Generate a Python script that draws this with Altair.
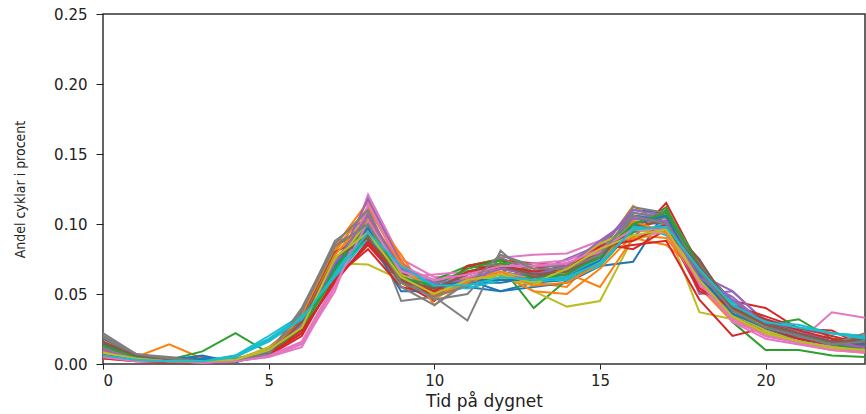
import altair as alt
import pandas as pd

hours = list(range(24))

s00 = [0.020,0.006,0.003,0.005,0.002,0.012,0.030,0.075,0.100,0.060,0.050,0.055,0.052,0.058,0.060,0.072,0.110,0.108,0.062,0.035,0.025,0.020,0.016,0.018]
s01 = [0.010,0.005,0.014,0.004,0.003,0.008,0.032,0.080,0.112,0.070,0.048,0.056,0.062,0.058,0.055,0.080,0.113,0.098,0.055,0.030,0.022,0.015,0.010,0.008]
s02 = [0.014,0.004,0.003,0.009,0.022,0.008,0.025,0.066,0.098,0.060,0.050,0.064,0.070,0.040,0.060,0.070,0.096,0.112,0.065,0.030,0.010,0.010,0.006,0.005]
s03 = [0.006,0.003,0.002,0.002,0.003,0.007,0.022,0.060,0.085,0.058,0.045,0.070,0.075,0.068,0.072,0.080,0.090,0.115,0.070,0.045,0.040,0.025,0.024,0.012]
s04 = [0.012,0.005,0.002,0.002,0.004,0.009,0.028,0.070,0.108,0.065,0.055,0.060,0.070,0.065,0.075,0.085,0.108,0.105,0.050,0.052,0.030,0.022,0.018,0.014]
s05 = [0.018,0.007,0.003,0.002,0.002,0.006,0.030,0.085,0.095,0.065,0.058,0.066,0.072,0.066,0.070,0.082,0.102,0.100,0.075,0.038,0.030,0.024,0.016,0.020]
s06 = [0.004,0.002,0.002,0.001,0.002,0.005,0.012,0.055,0.121,0.075,0.062,0.064,0.076,0.078,0.079,0.088,0.105,0.098,0.060,0.035,0.020,0.016,0.037,0.033]
s07 = [0.022,0.007,0.005,0.003,0.004,0.008,0.038,0.088,0.105,0.045,0.048,0.031,0.081,0.060,0.062,0.076,0.104,0.100,0.060,0.032,0.022,0.018,0.012,0.016]
s08 = [0.008,0.004,0.002,0.002,0.003,0.012,0.026,0.072,0.071,0.060,0.047,0.058,0.064,0.052,0.041,0.045,0.090,0.098,0.037,0.032,0.022,0.015,0.010,0.009]
s09 = [0.005,0.003,0.002,0.002,0.006,0.020,0.035,0.060,0.092,0.070,0.055,0.058,0.060,0.066,0.064,0.076,0.100,0.092,0.066,0.040,0.030,0.024,0.022,0.020]
s10 = [0.016,0.006,0.003,0.006,0.001,0.010,0.028,0.068,0.090,0.052,0.052,0.060,0.052,0.055,0.058,0.070,0.073,0.110,0.058,0.034,0.024,0.018,0.012,0.015]
s11 = [0.012,0.005,0.002,0.002,0.003,0.010,0.035,0.082,0.110,0.078,0.042,0.060,0.072,0.058,0.065,0.055,0.090,0.085,0.066,0.038,0.028,0.020,0.016,0.012]
s12 = [0.015,0.005,0.002,0.002,0.002,0.008,0.026,0.070,0.104,0.066,0.060,0.070,0.075,0.064,0.068,0.080,0.098,0.110,0.072,0.041,0.028,0.032,0.018,0.016]
s13 = [0.004,0.002,0.001,0.001,0.002,0.006,0.020,0.062,0.082,0.055,0.050,0.070,0.074,0.072,0.070,0.082,0.085,0.088,0.046,0.020,0.026,0.018,0.014,0.010]
s14 = [0.010,0.004,0.002,0.002,0.003,0.010,0.030,0.074,0.100,0.070,0.058,0.060,0.066,0.062,0.068,0.086,0.106,0.104,0.064,0.052,0.030,0.024,0.016,0.012]
s15 = [0.014,0.006,0.003,0.002,0.003,0.007,0.028,0.072,0.088,0.060,0.050,0.062,0.068,0.064,0.066,0.078,0.096,0.094,0.068,0.040,0.028,0.020,0.014,0.012]
s16 = [0.006,0.003,0.002,0.001,0.002,0.006,0.016,0.058,0.096,0.062,0.064,0.066,0.070,0.072,0.074,0.084,0.094,0.098,0.060,0.030,0.018,0.014,0.010,0.008]
s17 = [0.020,0.007,0.004,0.002,0.003,0.006,0.036,0.086,0.098,0.055,0.042,0.058,0.078,0.070,0.070,0.080,0.112,0.108,0.072,0.042,0.030,0.022,0.016,0.014]
s18 = [0.009,0.004,0.002,0.002,0.003,0.010,0.028,0.078,0.106,0.068,0.052,0.062,0.066,0.060,0.066,0.084,0.088,0.096,0.062,0.036,0.024,0.016,0.012,0.010]
s19 = [0.007,0.003,0.002,0.002,0.005,0.016,0.032,0.065,0.098,0.072,0.054,0.056,0.062,0.058,0.062,0.074,0.094,0.100,0.070,0.044,0.032,0.026,0.022,0.020]
s20 = [0.013,0.005,0.002,0.004,0.002,0.009,0.030,0.070,0.094,0.068,0.056,0.058,0.058,0.062,0.064,0.078,0.106,0.102,0.064,0.036,0.026,0.020,0.014,0.012]
s21 = [0.009,0.004,0.002,0.002,0.003,0.011,0.034,0.084,0.116,0.074,0.046,0.062,0.064,0.052,0.050,0.068,0.092,0.090,0.060,0.034,0.022,0.016,0.012,0.010]
s22 = [0.011,0.005,0.002,0.002,0.003,0.009,0.024,0.064,0.092,0.058,0.054,0.066,0.072,0.062,0.066,0.076,0.094,0.106,0.068,0.038,0.026,0.020,0.014,0.010]
s23 = [0.007,0.003,0.002,0.002,0.003,0.008,0.024,0.058,0.088,0.064,0.048,0.070,0.068,0.064,0.070,0.086,0.082,0.096,0.052,0.042,0.034,0.026,0.020,0.014]
s24 = [0.011,0.004,0.002,0.002,0.003,0.008,0.026,0.068,0.118,0.072,0.056,0.058,0.064,0.060,0.064,0.084,0.110,0.106,0.060,0.048,0.028,0.020,0.014,0.012]
s25 = [0.016,0.006,0.003,0.002,0.002,0.006,0.032,0.080,0.092,0.058,0.052,0.064,0.070,0.062,0.068,0.080,0.098,0.102,0.074,0.040,0.030,0.022,0.016,0.018]
s26 = [0.005,0.002,0.002,0.001,0.002,0.005,0.014,0.052,0.114,0.070,0.060,0.062,0.068,0.070,0.072,0.080,0.092,0.094,0.056,0.032,0.020,0.015,0.012,0.010]
s27 = [0.019,0.006,0.004,0.002,0.003,0.007,0.040,0.086,0.110,0.062,0.046,0.050,0.076,0.066,0.068,0.078,0.108,0.104,0.070,0.040,0.028,0.020,0.014,0.022]
s28 = [0.008,0.004,0.002,0.002,0.003,0.011,0.026,0.074,0.100,0.064,0.050,0.060,0.062,0.056,0.070,0.086,0.096,0.094,0.058,0.034,0.022,0.016,0.012,0.010]
s29 = [0.006,0.003,0.002,0.002,0.006,0.018,0.034,0.062,0.090,0.068,0.056,0.054,0.060,0.060,0.060,0.070,0.098,0.096,0.068,0.042,0.030,0.028,0.022,0.018]
s30 = [0.015,0.005,0.002,0.003,0.002,0.010,0.028,0.070,0.097,0.062,0.054,0.060,0.060,0.060,0.062,0.074,0.100,0.106,0.062,0.036,0.026,0.020,0.016,0.014]
s31 = [0.010,0.004,0.002,0.002,0.003,0.009,0.030,0.078,0.104,0.072,0.048,0.058,0.066,0.056,0.058,0.072,0.102,0.094,0.058,0.032,0.022,0.016,0.012,0.009]
s32 = [0.013,0.005,0.002,0.002,0.003,0.008,0.026,0.068,0.100,0.062,0.056,0.068,0.074,0.060,0.064,0.078,0.100,0.108,0.070,0.040,0.028,0.022,0.014,0.010]
s33 = [0.006,0.003,0.002,0.002,0.003,0.007,0.022,0.060,0.086,0.060,0.052,0.066,0.070,0.066,0.068,0.084,0.088,0.100,0.054,0.040,0.032,0.024,0.018,0.012]
s34 = [0.010,0.004,0.002,0.002,0.003,0.009,0.028,0.072,0.106,0.068,0.058,0.060,0.068,0.064,0.070,0.088,0.104,0.102,0.062,0.046,0.028,0.022,0.016,0.012]
s35 = [0.015,0.006,0.003,0.002,0.003,0.007,0.030,0.076,0.090,0.060,0.054,0.064,0.070,0.064,0.066,0.078,0.096,0.098,0.070,0.040,0.028,0.022,0.016,0.016]
s36 = [0.005,0.003,0.002,0.001,0.002,0.006,0.015,0.056,0.102,0.066,0.060,0.064,0.070,0.070,0.072,0.082,0.096,0.096,0.058,0.032,0.020,0.016,0.012,0.009]
s37 = [0.020,0.007,0.004,0.002,0.003,0.007,0.038,0.084,0.100,0.058,0.048,0.056,0.078,0.068,0.068,0.078,0.106,0.100,0.066,0.038,0.026,0.020,0.014,0.016]
s38 = [0.008,0.004,0.002,0.002,0.003,0.010,0.026,0.076,0.094,0.062,0.050,0.060,0.064,0.058,0.068,0.082,0.092,0.096,0.060,0.034,0.022,0.016,0.012,0.010]
s39 = [0.006,0.003,0.002,0.002,0.005,0.017,0.032,0.064,0.094,0.070,0.056,0.056,0.062,0.060,0.062,0.072,0.096,0.098,0.068,0.042,0.030,0.026,0.022,0.019]

series = [s00, s01, s02, s03, s04, s05, s06, s07, s08, s09,
          s10, s11, s12, s13, s14, s15, s16, s17, s18, s19,
          s20, s21, s22, s23, s24, s25, s26, s27, s28, s29,
          s30, s31, s32, s33, s34, s35, s36, s37, s38, s39]

tab10 = ["#1f77b4", "#ff7f0e", "#2ca02c", "#d62728", "#9467bd",
         "#8c564b", "#e377c2", "#7f7f7f", "#bcbd22", "#17becf"]

x_ticks = [0, 5, 10, 15, 20]
y_ticks = [0.0, 0.05, 0.10, 0.15, 0.20, 0.25]

rows = []
for i, s in enumerate(series):
    for h, v in zip(hours, s):
        rows.append({"serie": f"s{i:02d}", "timme": h, "andel": v})
df = pd.DataFrame(rows)

names = [f"s{i:02d}" for i in range(len(series))]
colors = [tab10[i % 10] for i in range(len(series))]

chart = (
    alt.Chart(df)
    .mark_line(strokeWidth=2, clip=True)
    .encode(
        x=alt.X("timme:Q",
                scale=alt.Scale(domain=[0, 23], nice=False, zero=False),
                axis=alt.Axis(values=x_ticks, title="Tid på dygnet", format="d",
                              grid=False, domain=False, tickSize=5, tickColor="#222",
                              labelFontSize=15, labelColor="#222", labelPadding=4,
                              titleFontSize=17, titleFontWeight="normal",
                              titleColor="#222", titlePadding=5,
                              labelFont="DejaVu Sans", titleFont="DejaVu Sans")),
        y=alt.Y("andel:Q",
                scale=alt.Scale(domain=[0, 0.25], nice=False),
                axis=alt.Axis(values=y_ticks, title="Andel cyklar i procent", format=".2f",
                              grid=False, domain=False, tickSize=7, tickColor="#222",
                              labelFontSize=15, labelColor="#222", labelPadding=9,
                              titleFontSize=14, titleFontWeight="normal",
                              titleColor="#222", titlePadding=26,
                              labelFont="DejaVu Sans",
                              titleFont="Liberation Sans Narrow, DejaVu Sans Condensed, DejaVu Sans")),
        color=alt.Color("serie:N", scale=alt.Scale(domain=names, range=colors), legend=None),
        detail="serie:N",
    )
    .properties(width=762, height=350,
                autosize=alt.AutoSizeParams(type="none"),
                padding={"left": 103, "top": 14, "right": 1, "bottom": 50})
    .configure_view(stroke="#333", strokeWidth=1.5)
)

chart.save("out.html", embed_options={"renderer": "svg", "actions": False})
